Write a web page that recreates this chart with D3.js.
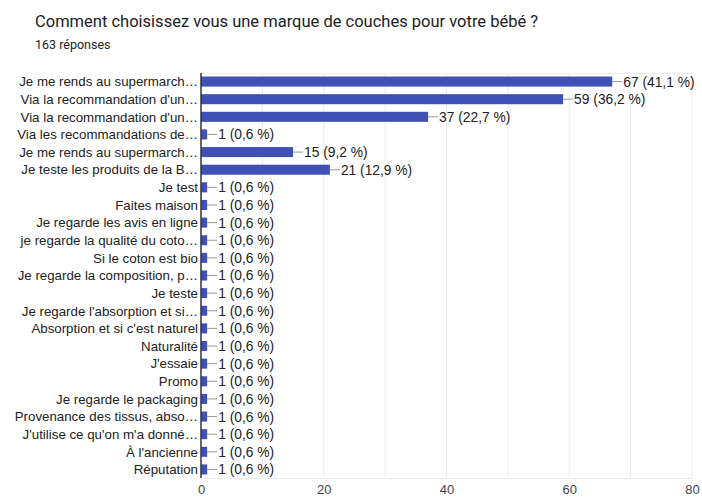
<!DOCTYPE html>
<html>
<head>
<meta charset="utf-8">
<script src="https://cdn.jsdelivr.net/npm/d3@7"></script>
<style>
  body { margin: 0; background: #fff; }
  .title { font-family: Roboto, sans-serif; font-size: 16.5px; fill: #202124; }
  .sub { font-family: Roboto, sans-serif; font-size: 12.5px; fill: #202124; }
  .cat { font-family: "Liberation Sans", Arial, sans-serif; font-size: 13.3px; fill: #222; }
  .val { font-family: "Liberation Sans", Arial, sans-serif; font-size: 13.8px; fill: #222; }
  .tick text { font-family: "Liberation Sans", Arial, sans-serif; font-size: 13px; fill: #444; }
</style>
</head>
<body>
<div id="chart"></div>
<script>
// Answers (labels as shown, truncated like the original)
const categories = [
  "Je me rends au supermarch…",
  "Via la recommandation d'un…",
  "Via la recommandation d'un…",
  "Via les recommandations de…",
  "Je me rends au supermarch…",
  "Je teste les produits de la B…",
  "Je test",
  "Faites maison",
  "Je regarde les avis en ligne",
  "je regarde la qualité du coto…",
  "Si le coton est bio",
  "Je regarde la composition, p…",
  "Je teste",
  "Je regarde l'absorption et si…",
  "Absorption et si c'est naturel",
  "Naturalité",
  "J'essaie",
  "Promo",
  "Je regarde le packaging",
  "Provenance des tissus, abso…",
  "J'utilise ce qu'on m'a donné…",
  "À l'ancienne",
  "Réputation"
];
const counts = [67, 59, 37, 1, 15, 21, 1, 1, 1, 1, 1, 1, 1, 1, 1, 1, 1, 1, 1, 1, 1, 1, 1];
const percents = ["41,1", "36,2", "22,7", "0,6", "9,2", "12,9", "0,6", "0,6", "0,6", "0,6",
  "0,6", "0,6", "0,6", "0,6", "0,6", "0,6", "0,6", "0,6", "0,6", "0,6", "0,6", "0,6", "0,6"];
const xTicks = [0, 20, 40, 60, 80];
const gridValues = [10, 20, 30, 40, 50, 60, 70, 80];

const width = 702, height = 498;
const margin = { left: 201, right: 10, top: 73, bottom: 20 };
const plotRight = 692, plotBottom = 478;

const svg = d3.select('#chart').append('svg')
  .attr('width', width)
  .attr('height', height);

svg.append('text').attr('class', 'title')
  .attr('x', 35).attr('y', 27)
  .text('Comment choisissez vous une marque de couches pour votre bébé ?');
svg.append('text').attr('class', 'sub')
  .attr('x', 35).attr('y', 49)
  .text('163 réponses');

const x = d3.scaleLinear().domain([0, 80]).range([margin.left, plotRight]);
const y = d3.scaleBand()
  .domain(d3.range(categories.length))
  .range([margin.top, plotBottom])
  .paddingInner(0.43)
  .paddingOuter(0.2);

// Grid
svg.append('g').selectAll('line')
  .data(gridValues)
  .join('line')
  .attr('x1', d => x(d)).attr('x2', d => x(d))
  .attr('y1', margin.top).attr('y2', plotBottom)
  .attr('stroke', '#ebebeb').attr('stroke-width', 1);
svg.append('line')
  .attr('x1', margin.left).attr('x2', plotRight)
  .attr('y1', margin.top + 0.5).attr('y2', margin.top + 0.5)
  .attr('stroke', '#ebebeb');
svg.append('line')
  .attr('x1', margin.left).attr('x2', plotRight)
  .attr('y1', plotBottom + 0.5).attr('y2', plotBottom + 0.5)
  .attr('stroke', '#ebebeb');

// Bars
const rows = svg.append('g').selectAll('g')
  .data(categories.map((c, i) => ({ c, i, v: counts[i], p: percents[i] })))
  .join('g');

rows.append('rect')
  .attr('x', x(0))
  .attr('y', d => y(d.i))
  .attr('width', d => x(d.v) - x(0))
  .attr('height', y.bandwidth())
  .attr('fill', '#3f51b5');

rows.append('line')
  .attr('x1', d => x(d.v))
  .attr('x2', d => x(d.v) + 10)
  .attr('y1', d => y(d.i) + y.bandwidth() / 2)
  .attr('y2', d => y(d.i) + y.bandwidth() / 2)
  .attr('stroke', '#999').attr('stroke-width', 1);

rows.append('text').attr('class', 'val')
  .attr('x', d => x(d.v) + 11)
  .attr('y', d => y(d.i) + y.bandwidth() / 2)
  .attr('dy', '0.36em')
  .text(d => `${d.v} (${d.p} %)`);

rows.append('text').attr('class', 'cat')
  .attr('x', margin.left - 3)
  .attr('y', d => y(d.i) + y.bandwidth() / 2)
  .attr('dy', '0.36em')
  .attr('text-anchor', 'end')
  .text(d => d.c);

// Axis line
svg.append('line')
  .attr('x1', x(0)).attr('x2', x(0))
  .attr('y1', margin.top).attr('y2', plotBottom)
  .attr('stroke', '#333').attr('stroke-width', 1.5);

// X axis
const axis = d3.axisBottom(x).tickValues(xTicks).tickSize(0).tickPadding(7);
svg.append('g')
  .attr('transform', `translate(0,${plotBottom})`)
  .call(axis)
  .call(g => g.select('.domain').remove());
</script>
</body>
</html>
